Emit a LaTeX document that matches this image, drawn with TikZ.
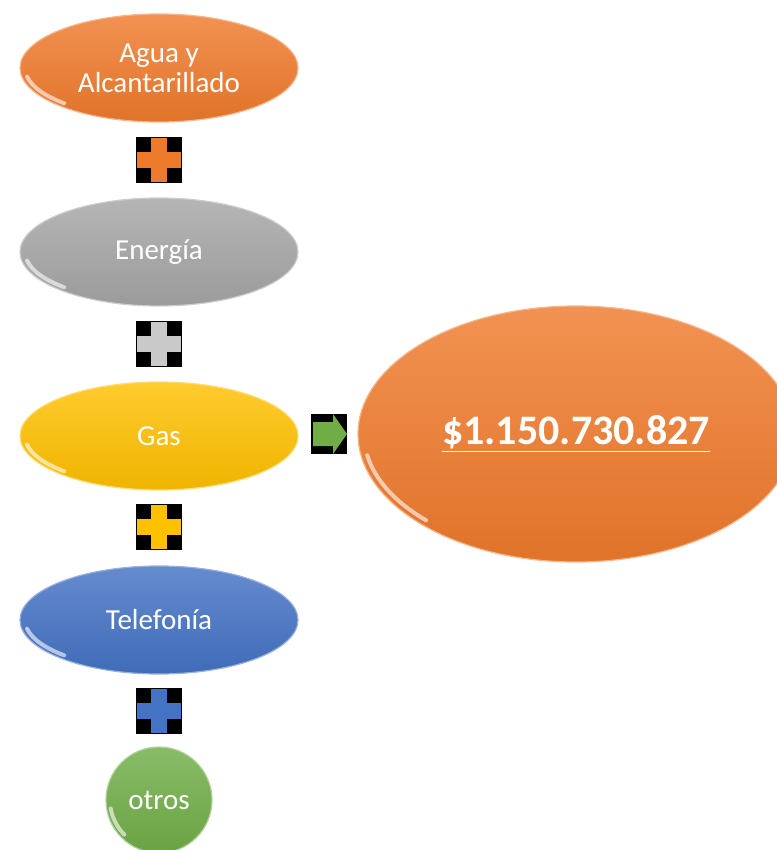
\documentclass[tikz,border=0pt]{standalone}
\usepackage{fontspec}
\setmainfont{Carlito}
\usetikzlibrary{shapes.geometric,positioning}
\definecolor{orangeA}{HTML}{EF7A2C}
\definecolor{grayA}{HTML}{A5A5A5}
\definecolor{goldA}{HTML}{FFC000}
\definecolor{blueA}{HTML}{4472C4}
\definecolor{greenA}{HTML}{70AD47}
\tikzset{
	blob/.style={ellipse, inner sep=0pt, align=center, text=white, line width=0.6pt,
		draw=#1!55!white, top color=#1!82!white, bottom color=#1!94!black,
		font=\fontsize{14.5}{15}\selectfont},
	gloss/.style={white, opacity=0.6, line width=2pt, line cap=round},
	plusbox/.style={fill=black, minimum size=23pt, inner sep=0pt,
		path picture={
			\fill[#1] ([xshift=-4pt,yshift=-11pt]path picture bounding box.center) rectangle ([xshift=4pt,yshift=11pt]path picture bounding box.center);
			\fill[#1] ([xshift=-11pt,yshift=-4pt]path picture bounding box.center) rectangle ([xshift=11pt,yshift=4pt]path picture bounding box.center);
		}},
	arrowbox/.style={fill=black, minimum width=18pt, minimum height=20pt, inner sep=0pt,
		path picture={
			\fill[#1] ([xshift=-8pt,yshift=-6pt]path picture bounding box.center) -- ++(10pt,0) -- ++(0,-4pt) -- ++(7pt,10pt) -- ++(-7pt,10pt) -- ++(0,-4pt) -- ++(-10pt,0) -- cycle;
		}}
}
\begin{document}
\begin{tikzpicture}[x=0.5pt,y=-0.5pt]
	\useasboundingbox (0,0) rectangle (776,850);
	%
	\node[blob=orangeA, minimum width=139pt, minimum height=54pt] (agua) at (159,68) {Agua y\\Alcantarillado};
	\node[plusbox=orangeA] (p1) at (159,160) {};
	\node[blob=grayA, minimum width=139pt, minimum height=54pt] (energia) at (159,252) {Energía};
	\node[plusbox=grayA!60!white] (p2) at (159,344) {};
	\node[blob=goldA, minimum width=139pt, minimum height=54pt] (gas) at (159,436) {Gas};
	\node[plusbox=goldA] (p3) at (159,527) {};
	\node[blob=blueA, minimum width=139pt, minimum height=54pt] (tel) at (159,620) {Telefonía};
	\node[plusbox=blueA] (p4) at (159,711) {};
	\node[blob=greenA, circle, minimum size=53pt] (otros) at (159,800) {otros};
	%
	\node[arrowbox=greenA] (flecha) at (329,434) {};
	\node[blob=orangeA, minimum width=218pt, minimum height=128pt, font=\fontsize{21}{24}\bfseries] (total) at (576,434) {\underline{\$1.150.730.827}};
	%
	\foreach \n/\rx/\ry in {agua/67/25, energia/67/25, gas/67/25, tel/67/25, otros/24.5/24.5, total/106/61}
		\draw[gloss] ([shift={(190:\rx pt and \ry pt)}]\n.center) arc[start angle=190, end angle=225, x radius=\rx pt, y radius=\ry pt];
\end{tikzpicture}
\end{document}
